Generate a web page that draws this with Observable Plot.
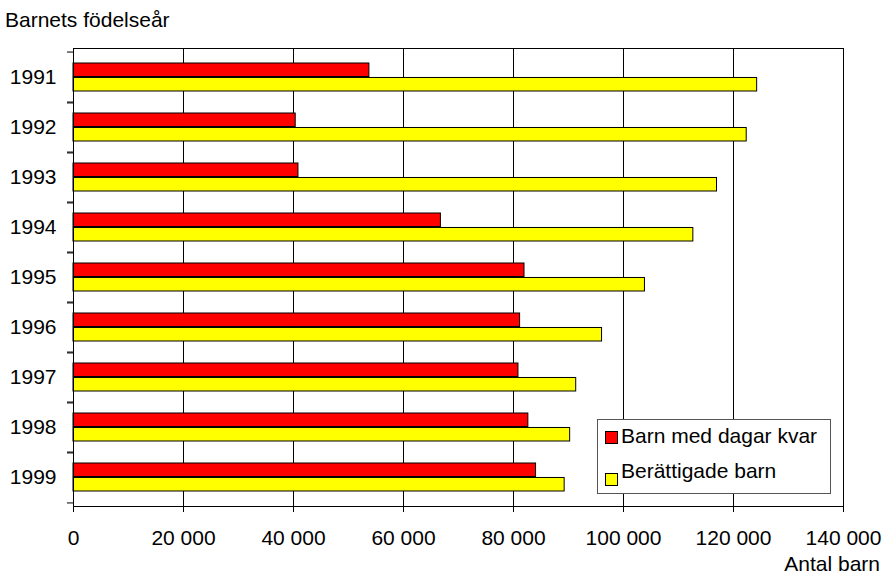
<!DOCTYPE html>
<html>
<head>
<meta charset="utf-8">
<script src="https://cdn.jsdelivr.net/npm/d3@7"></script>
<script src="https://cdn.jsdelivr.net/npm/@observablehq/plot@0.6"></script>
<style>
  html, body { margin: 0; padding: 0; background: #fff; }
  #wrap { position: relative; width: 886px; height: 574px; font-family: "Liberation Sans", Arial, sans-serif; color: #000; }
  .lbl { position: absolute; font-size: 21px; line-height: 21px; white-space: nowrap; }
  #legend { position: absolute; left: 597px; top: 419px; width: 232px; height: 73px; border: 1px solid #555; background: #fff; }
  .sw { position: absolute; width: 11px; height: 11px; border: 1px solid #000; }
</style>
</head>
<body>
<div id="wrap">
  <div id="chart"></div>
  <div class="lbl" style="left:5px; top:9px;">Barnets födelseår</div>
  <div class="lbl" style="right:6px; top:555px; line-height:18px;">Antal barn</div>
  <div id="legend"></div>
</div>
<script>
const years = ["1991", "1992", "1993", "1994", "1995", "1996", "1997", "1998", "1999"];
const dagarKvar = [53800, 40400, 40900, 66800, 82000, 81200, 80900, 82700, 84100];
const berattigade = [124300, 122400, 117000, 112700, 103900, 96100, 91400, 90300, 89300];
const seriesNames = ["Barn med dagar kvar", "Berättigade barn"];
const seriesColors = ["#ff0000", "#ffff00"];
const xTicks = [0, 20000, 40000, 60000, 80000, 100000, 120000, 140000];

const rowsRed = years.map((y, i) => ({year: y, value: dagarKvar[i]}));
const rowsYellow = years.map((y, i) => ({year: y, value: berattigade[i]}));

const fmt = d3.formatLocale({decimal: ",", thousands: " ", grouping: [3], currency: ["", " kr"]}).format(",d");

const width = 886, height = 574;
const marginLeft = 73, marginRight = 43, marginTop = 48, marginBottom = 68;
const bandStep = (height - marginTop - marginBottom) / years.length;
const halfBand = 0.569 * bandStep / 2;

const plot = Plot.plot({
  width, height, marginLeft, marginRight, marginTop, marginBottom,
  style: {fontFamily: "'Liberation Sans', Arial, sans-serif", fontSize: "21px", color: "#000", background: "transparent"},
  x: {domain: [0, 140000], axis: null},
  y: {domain: years, paddingInner: 0.431, paddingOuter: 0.2155, axis: null},
  marks: [
    Plot.gridX(xTicks.slice(1, -1), {stroke: "#000", strokeOpacity: 1}),
    Plot.barX(rowsRed, {y: "year", x: "value", fill: seriesColors[0], stroke: "#000", strokeWidth: 1, insetBottom: halfBand}),
    Plot.barX(rowsYellow, {y: "year", x: "value", fill: seriesColors[1], stroke: "#000", strokeWidth: 1, insetTop: halfBand}),
    Plot.frame({stroke: "#000"}),
    Plot.axisX({ticks: xTicks, tickSize: 6, tickPadding: 18, tickFormat: fmt, label: null, stroke: "#000", fontSize: 21}),
    Plot.axisY({tickSize: 0, tickPadding: 17, label: null, fontSize: 21}),
    Plot.axisY({tickSize: 6, text: null, label: null, dy: bandStep / 2, stroke: "#000"}),
    Plot.axisY({tickSize: 6, text: null, label: null, dy: -bandStep / 2, stroke: "#000"})
  ]
});
document.getElementById("chart").appendChild(plot);

// legend
const legend = document.getElementById("legend");
seriesNames.forEach((name, i) => {
  const sw = document.createElement("div");
  sw.className = "sw";
  sw.style.left = "7px";
  sw.style.top = (11 + i * 42) + "px";
  sw.style.background = seriesColors[i];
  legend.appendChild(sw);
  const t = document.createElement("div");
  t.className = "lbl";
  t.style.left = "23px";
  t.style.top = (5 + i * 35) + "px";
  t.textContent = name;
  legend.appendChild(t);
});
</script>
</body>
</html>
